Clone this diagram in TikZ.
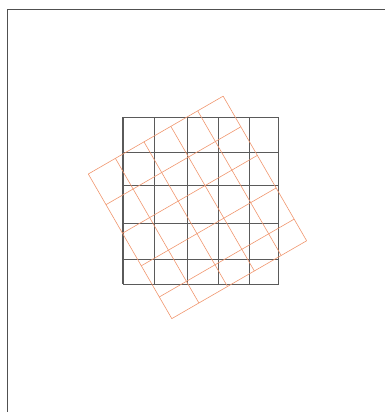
\documentclass[tikz,border=0pt]{standalone}
\definecolor{gridgray}{RGB}{90,90,90}
\definecolor{gridorange}{RGB}{240,150,110}
\definecolor{framegray}{RGB}{80,80,80}
\begin{document}
\begin{tikzpicture}[x=1pt,y=-1pt,
  blackgrid/.style={draw=gridgray,line width=1.1pt},
  orangegrid/.style={draw=gridorange,line width=0.6pt},
  framestyle/.style={draw=framegray,line width=1pt}]
\useasboundingbox (0,0) rectangle (385,412);
% frame
\draw[framestyle] (7.5,412) -- (7.5,9.5) -- (385,9.5);
% black grid
\foreach \x in {0,31.3,64.3,95.3,126.3,155.7}
  \draw[blackgrid] (123+\x,117.3) -- (123+\x,284.3);
\foreach \y in {0,35.4,68.4,106,142,167}
  \draw[blackgrid] (123,117.3+\y) -- (278.7,117.3+\y);
% rotated orange grid
\begin{scope}[shift={(88.3,174)},rotate=30]
  \foreach \x in {0,31.3,64.3,95.3,126.3,155.7}
    \draw[orangegrid] (\x,0) -- (\x,167);
  \foreach \y in {0,35.4,68.4,106,142,167}
    \draw[orangegrid] (0,\y) -- (155.7,\y);
\end{scope}
\end{tikzpicture}
\end{document}
